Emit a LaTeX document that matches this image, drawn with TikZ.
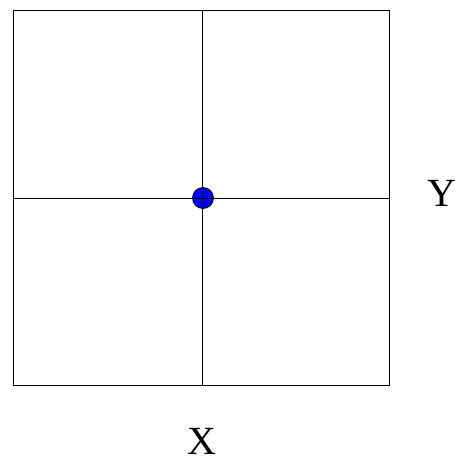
\documentclass[tikz,border=0pt]{standalone}
\usepackage{fontspec}
\setmainfont{Liberation Serif}
\begin{document}
\begin{tikzpicture}[x=1pt,y=-1pt,
  frame/.style={draw=black,line width=0.9pt},
  axisline/.style={draw=black,line width=0.8pt},
  lbl/.style={font=\fontsize{40}{48}\selectfont,inner sep=0pt},
  dot/.style={circle,draw=black,fill=blue,line width=0.8pt,minimum size=21pt,inner sep=0pt}]
\useasboundingbox (0,0) rectangle (457,466);
\coordinate (tl) at (13,10.5);
\coordinate (br) at (389,385);
\coordinate (top) at (202,10.5);
\coordinate (bot) at (202,385);
\coordinate (lft) at (13,198);
\coordinate (rgt) at (389,198);
\draw[frame] (tl) rectangle (br);
\draw[axisline] (top) -- (bot);
\draw[axisline] (lft) -- (rgt);
\node[dot] (c) at (203,198) {};
\draw[axisline] (c.north) -- (c.south);
\draw[axisline] (c.west) -- (c.east);
\node[lbl] (ylab) at (441.5,193.5) {Y};
\node[lbl] (xlab) at (201.5,441) {X};
\end{tikzpicture}
\end{document}
